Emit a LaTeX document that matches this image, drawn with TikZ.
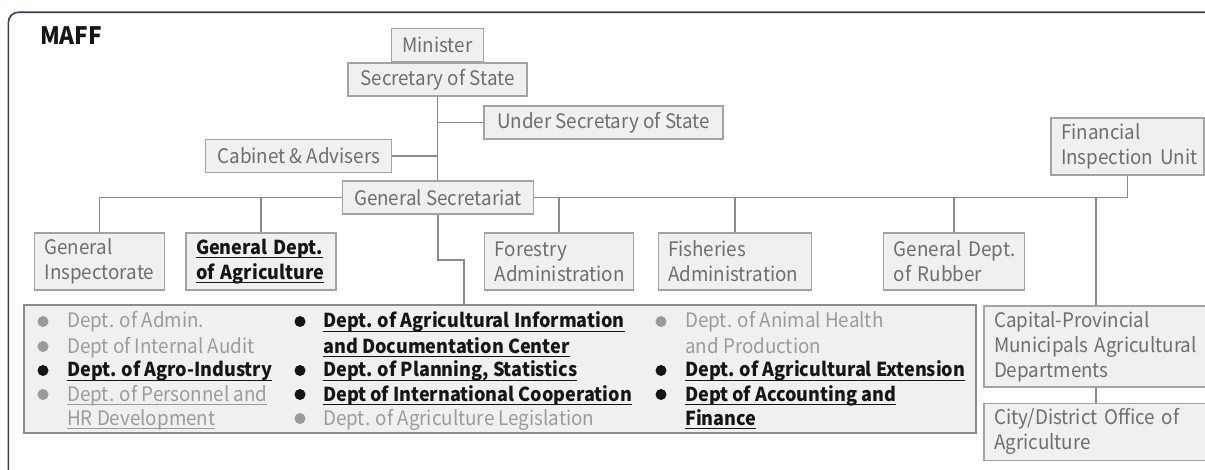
\documentclass[tikz,border=0pt]{standalone}
\usepackage{fontspec}
\setmainfont[FakeStretch=0.94]{Noto Sans CJK JP}
\usetikzlibrary{positioning}
\definecolor{boxfill}{HTML}{F0F0F0}
\definecolor{boxline}{HTML}{A3A3A3}
\definecolor{listline}{HTML}{8C8C8C}
\definecolor{boxtext}{HTML}{6E6E6E}
\definecolor{conn}{HTML}{8A8A8A}
\definecolor{ink}{HTML}{151515}
\definecolor{listgray}{HTML}{9B9B9B}
\definecolor{framec}{HTML}{33405A}
\newcommand\boxfont{\fontsize{20}{25}\selectfont}
\newcommand\boldfont{\fontsize{19.2}{25}\selectfont\bfseries}
\newcommand\ulx[1]{\leavevmode\setbox0=\hbox{#1}\rlap{\rule[-4pt]{\wd0}{1.2pt}}\box0}
\tikzset{
  box/.style={draw=boxline, fill=boxfill, text=boxtext, line width=1.2pt, font=\boxfont,
    inner xsep=10pt, inner ysep=0pt, minimum height=33pt},
  wbox/.style={box, align=left, minimum height=57pt},
  listbox/.style={draw=listline, fill=boxfill, line width=1.3pt, inner sep=0pt},
  conn/.style={draw=conn, line width=1.9pt},
  frame/.style={draw=framec, line width=1.6pt, rounded corners=10pt},
  ttl/.style={text=ink, font=\fontsize{24}{28}\selectfont\bfseries, inner sep=0pt},
  itemg/.style={anchor=base west, inner sep=0pt, text=listgray, font=\boxfont},
  itemb/.style={anchor=base west, inner sep=0pt, text=ink, font=\boldfont}
}
\begin{document}
\begin{tikzpicture}[x=1pt, y=-1pt]
  \clip (0,0) rectangle (1205,470);
  \fill[white] (0,0) rectangle (1205,470);
  \draw[frame] (8.4,490) -- (8.4,12.3) -- (1230,12.3);

  \node[ttl, anchor=base west] (maff) at (40,45) {MAFF};

  \node[box, minimum width=179pt] (sec) at (437.5,79.5) {Secretary of State};
  \node[box, minimum width=92pt, above=0pt of sec] (minister) {Minister};
  \node[box, minimum width=239pt] (under) at (603.5,122.5) {Under Secretary of State};
  \node[box, minimum width=186pt] (cab) at (298.8,156) {Cabinet \& Advisers};
  \node[box, minimum width=191pt] (gensec) at (438,197.5) {General Secretariat};

  \node[wbox, text width=110pt] (gi) at (99.5,261.5) {General\\Inspectorate};
  \node[wbox, text width=130pt, text=ink, font=\boldfont] (gda) at (261,261.5)
    {\ulx{General Dept.}\\\ulx{of Agriculture}};
  \node[wbox, text width=129pt] (forest) at (559.3,261.5) {Forestry\\Administration};
  \node[wbox, text width=133pt] (fish) at (734.7,261.5) {Fisheries\\Administration};
  \node[wbox, text width=121pt] (rubber) at (954.3,261.5) {General~Dept.\\of~Rubber};
  \node[wbox, text width=133pt] (fin) at (1127.5,146.5) {Financial\\Inspection~Unit};
  \node[wbox, text width=204pt, minimum height=81pt] (cap) at (1096,346.5)
    {Capital-Provincial\\Municipals~Agricultural\\Departments};
  \node[wbox, text width=204pt, below=15pt of cap] (city) {City/District~Office~of\\Agriculture};

  \node[listbox, minimum width=952pt, minimum height=128pt] (list) at (500,369) {};

  \draw[conn] (sec.south) -- (sec.south |- gensec.north);
  \draw[conn] (under.west) -- (under.west -| sec.south);
  \draw[conn] (cab.east) -- (cab.east -| sec.south);
  \draw[conn] (gi.north) |- (gensec.west);
  \draw[conn] (gda.north) -- (gda.north |- gensec.west);
  \draw[conn] (gensec.east) -| (fin.south);
  \foreach \n in {forest,fish,rubber,cap}
    \draw[conn] (\n.north) -- (\n.north |- gensec.east);
  \coordinate (jog) at (464,260);
  \draw[conn] (gensec.south) |- (jog) -- (jog |- list.north);
  \draw[conn] (cap.south) -- (city.north);

  \foreach \x/\y/\c in {43/328/listgray, 43/353/listgray, 43/377/ink, 43/401/listgray,
      300/328/ink, 300/377/ink, 300/401/ink, 300/425/listgray,
      661/328/listgray, 661/377/ink, 661/401/ink}
    \fill[\c] (\x,\y-6.5) circle (5.5pt);

  \node[itemg] (a1) at (67,328) {Dept. of Admin.};
  \node[itemg] (a2) at (67,353) {Dept of Internal Audit};
  \node[itemb] (a3) at (67,377) {\ulx{Dept. of Agro-Industry}};
  \node[itemg] (a4) at (67,401) {\ulx{Dept. of Personnel and}};
  \node[itemg] (a5) at (67,425) {\ulx{HR Development}};

  \node[itemb] (b1) at (323,328) {\ulx{Dept. of Agricultural Information}};
  \node[itemb] (b2) at (323,353) {\ulx{and Documentation Center}};
  \node[itemb] (b3) at (323,377) {\ulx{Dept. of Planning, Statistics}};
  \node[itemb] (b4) at (323,401) {\ulx{Dept of International Cooperation}};
  \node[itemg] (b5) at (323,425) {Dept. of Agriculture Legislation};

  \node[itemg] (c1) at (685,328) {Dept. of Animal Health};
  \node[itemg] (c2) at (685,353) {and Production};
  \node[itemb] (c3) at (685,377) {\ulx{Dept. of Agricultural Extension}};
  \node[itemb] (c4) at (685,401) {\ulx{Dept of Accounting and}};
  \node[itemb] (c5) at (685,425) {\ulx{Finance}};
\end{tikzpicture}
\end{document}
